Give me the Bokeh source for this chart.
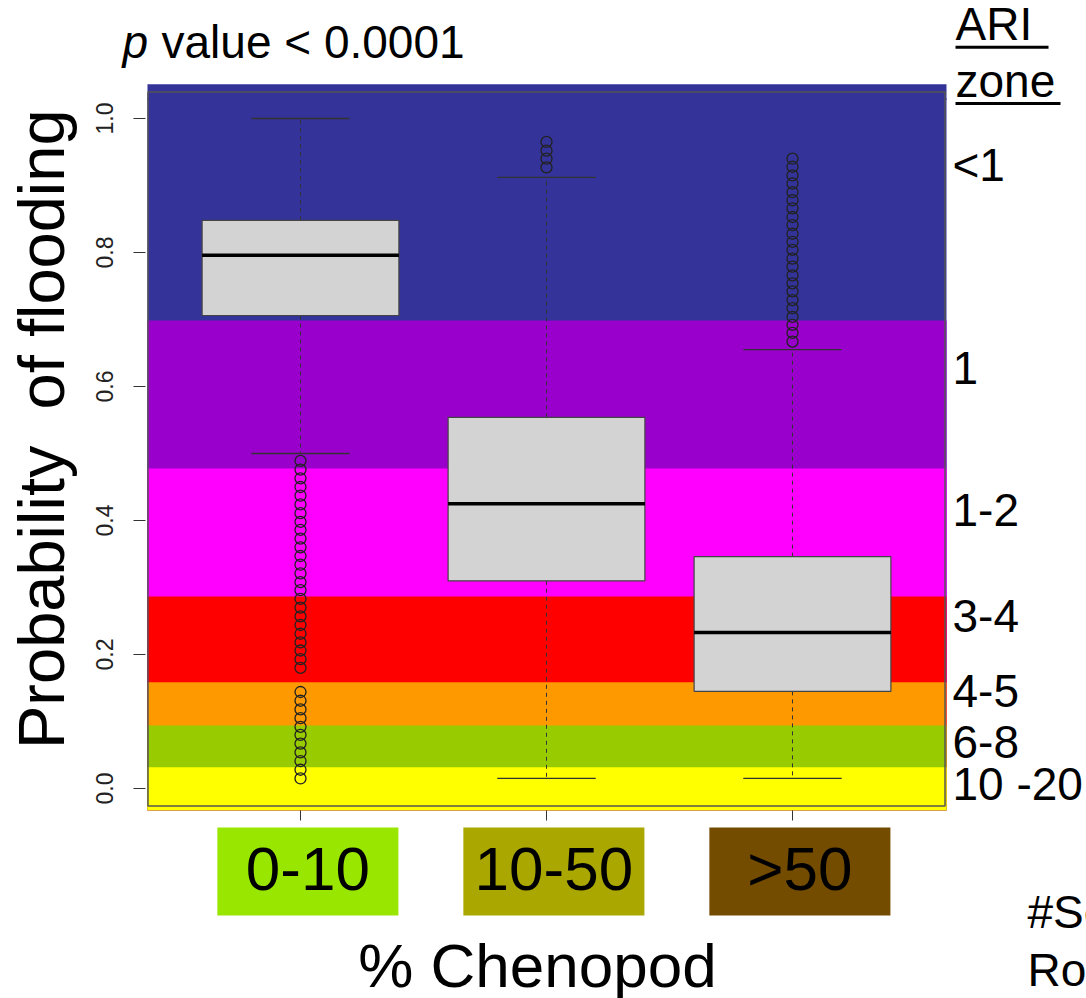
from bokeh.plotting import figure
from bokeh.layouts import column
from bokeh.models import FixedTicker, Range1d
from bokeh.core.properties import value
from bokeh.embed import file_html
from bokeh.resources import INLINE

# ---------------- data ----------------
categories = ["0-10", "10-50", ">50"]
cat_pos = [1, 2, 3]
whisker_low = [0.500, 0.015, 0.015]
q1 = [0.706, 0.310, 0.145]
median = [0.796, 0.425, 0.233]
q3 = [0.848, 0.554, 0.346]
whisker_high = [1.000, 0.912, 0.655]

outliers_0_10 = [0.489, 0.476, 0.463, 0.450, 0.437, 0.424, 0.411, 0.398, 0.386,
                 0.373, 0.360, 0.347, 0.334, 0.321, 0.308, 0.296, 0.283, 0.270,
                 0.257, 0.244, 0.231, 0.218, 0.206, 0.193, 0.180,
                 0.144, 0.131, 0.118, 0.105, 0.092, 0.080, 0.067, 0.054, 0.041,
                 0.028, 0.015]
outliers_10_50 = [0.965, 0.952, 0.940, 0.927]
outliers_gt50 = [0.940, 0.928, 0.915, 0.903, 0.890, 0.878, 0.866, 0.853, 0.841,
                 0.828, 0.816, 0.804, 0.791, 0.779, 0.766, 0.754, 0.742, 0.729,
                 0.717, 0.704, 0.692, 0.680, 0.667]

zone_labels = ["<1", "1", "1-2", "3-4", "4-5", "6-8", "10 -20"]
zone_label_y = [0.931, 0.628, 0.415, 0.257, 0.145, 0.070, 0.006]
band_top = [1.051, 0.6985, 0.4776, 0.2866, 0.1587, 0.0940, 0.0318]
band_bottom = [0.6985, 0.4776, 0.2866, 0.1587, 0.0940, 0.0318, -0.0330]
band_colors = ["#333399", "#9900CC", "#FF00FF", "#FF0000", "#FF9900", "#99CC00", "#FFFF00"]
cat_colors = ["#99E600", "#AAA700", "#744C00"]

y_ticks = [0.0, 0.2, 0.4, 0.6, 0.8, 1.0]
y_tick_labels = ["0.0", "0.2", "0.4", "0.6", "0.8", "1.0"]

title_p = "p"
title_rest = "value < 0.0001"
y_title = "Probability\u00a0 of flooding"
x_title = "% Chenopod"
zone_header = ["ARI ", "zone"]
note_lines = ["#Se", "Ro"]

FONT = value("Liberation Sans")

# page-pixel based ranges: x = 1 + (px - 300)/246 ; y = (788 - py)/670
X_FULL = (1 + (0 - 300) / 246, 1 + (1086 - 300) / 246)
X_MAIN = (1 + (145 - 300) / 246, 1 + (1086 - 300) / 246)
TOP_H = 100
OVERLAP = 2
Y_TOP = ((788 - TOP_H) / 670, 788 / 670)
Y_MAIN = ((788 - 810) / 670, (788 - (TOP_H - OVERLAP)) / 670)


def draw_background(fig):
    # bands painted top to bottom, each reaching the bottom, so no seams appear
    fig.quad(left=0.378, right=3.626, top=band_top,
             bottom=[min(band_bottom)] * len(band_top),
             fill_color=band_colors, line_color=None)
    # plot box
    fig.quad(left=[0.38], right=[3.62], bottom=[-0.026], top=[1.0395],
             fill_color=None, line_color="#555555", line_width=1.5)


# ---------------- top strip ----------------
t = figure(width=1086, height=TOP_H, x_range=Range1d(*X_FULL), y_range=Range1d(*Y_TOP),
           x_axis_type=None, y_axis_type=None, output_backend="svg",
           toolbar_location=None, min_border=0, frame_align=False)
t.outline_line_color = None
t.background_fill_color = None
t.border_fill_color = None
draw_background(t)
t.text(x=[0.2764], y=[1.1136], text=[title_p], text_font=FONT,
       text_font_size="46px", text_font_style="italic", text_color="black",
       text_baseline="middle", text_align="left")
t.text(x=[0.435], y=[1.1136], text=[title_rest], text_font=FONT,
       text_font_size="46px", text_color="black",
       text_baseline="middle", text_align="left")
t.text(x=[3.6626, 3.6626], y=[1.1405, 1.0554], text=zone_header, text_font=FONT,
       text_font_size="46px", text_color="black",
       text_baseline="middle", text_align="left")
t.segment(x0=[3.6626], x1=[4.0407], y0=[1.1064], y1=[1.1064],
          line_color="black", line_width=3)

# ---------------- main plot ----------------
p = figure(width=1086, height=826 - TOP_H + OVERLAP,
           x_range=Range1d(*X_MAIN), y_range=Range1d(*Y_MAIN),
           output_backend="svg", toolbar_location=None,
           min_border_left=145, min_border_right=0, min_border_top=0,
           min_border_bottom=16, frame_align=False)
p.margin = (-OVERLAP, 0, 0, 0)
p.xgrid.visible = False
p.ygrid.visible = False
p.outline_line_color = None
p.background_fill_color = None
p.border_fill_color = None

draw_background(p)
p.segment(x0=[3.6626], x1=[4.0894], y0=[1.0224], y1=[1.0224],
          line_color="black", line_width=3)

# whiskers
p.segment(x0=cat_pos, x1=cat_pos, y0=q3, y1=whisker_high,
          line_color="#333333", line_width=1, line_dash="4 4")
p.segment(x0=cat_pos, x1=cat_pos, y0=q1, y1=whisker_low,
          line_color="#333333", line_width=1, line_dash="4 4")
# caps
p.segment(x0=[c - 0.2 for c in cat_pos], x1=[c + 0.2 for c in cat_pos],
          y0=whisker_high, y1=whisker_high, line_color="#333333", line_width=1.3)
p.segment(x0=[c - 0.2 for c in cat_pos], x1=[c + 0.2 for c in cat_pos],
          y0=whisker_low, y1=whisker_low, line_color="#333333", line_width=1.3)
# boxes
p.quad(left=[c - 0.4 for c in cat_pos], right=[c + 0.4 for c in cat_pos],
       bottom=q1, top=q3, fill_color="#D3D3D3", line_color="#444444", line_width=1.2)
# medians
p.segment(x0=[c - 0.4 for c in cat_pos], x1=[c + 0.4 for c in cat_pos],
          y0=median, y1=median, line_color="black", line_width=3.5)

# outliers
for c, vals in zip(cat_pos, [outliers_0_10, outliers_10_50, outliers_gt50]):
    p.scatter(x=[c] * len(vals), y=vals, marker="circle", size=11,
              fill_color=None, line_color="#222222", line_width=1.3)

# axes
p.yaxis.ticker = FixedTicker(ticks=y_ticks)
p.yaxis.major_label_overrides = dict(zip(y_ticks, y_tick_labels))
p.yaxis.major_label_orientation = "parallel"
p.yaxis.major_label_text_font = "Liberation Sans"
p.yaxis.major_label_text_font_size = "23px"
p.yaxis.major_label_text_color = "#222222"
p.yaxis.major_label_standoff = 21
p.yaxis.major_tick_out = 12
p.yaxis.major_tick_in = 0
p.yaxis.major_tick_line_color = "#333333"
p.yaxis.minor_tick_line_color = None
p.yaxis.axis_line_color = None
p.yaxis.axis_label = "\u2002\u00a0" + y_title
p.yaxis.axis_label_text_font = "Liberation Sans"
p.yaxis.axis_label_text_font_size = "65px"
p.yaxis.axis_label_text_font_style = "normal"
p.yaxis.axis_label_text_color = "black"
p.yaxis.axis_label_standoff = 15

p.xaxis.ticker = FixedTicker(ticks=cat_pos)
p.xaxis.major_label_overrides = {c: "" for c in cat_pos}
p.xaxis.major_label_text_font_size = "1px"
p.xaxis.major_label_standoff = 0
p.xaxis.major_tick_out = 10
p.xaxis.major_tick_in = 0
p.xaxis.major_tick_line_color = "#333333"
p.xaxis.minor_tick_line_color = None
p.xaxis.axis_line_color = None

# zone labels
p.text(x=[3.6504] * len(zone_labels), y=zone_label_y, text=zone_labels,
       text_font=FONT, text_font_size="46px", text_color="black",
       text_baseline="middle", text_align="left")

# ---------------- bottom strip ----------------
b = figure(width=1086, height=172,
           x_range=Range1d(*X_MAIN),
           y_range=Range1d(0, 172),
           x_axis_type=None, y_axis_type=None,
           output_backend="svg", toolbar_location=None,
           min_border=0, min_border_left=145, frame_align=False)
b.outline_line_color = None
b.xgrid.visible = False
b.ygrid.visible = False

b.quad(left=[c + 0.03 - 0.368 for c in cat_pos], right=[c + 0.03 + 0.368 for c in cat_pos],
       bottom=83, top=171, fill_color=cat_colors, line_color=None)
b.text(x=[c + 0.03 for c in cat_pos], y=[129.7] * 3, text=categories, text_font=FONT,
       text_font_size="62px", text_color="black",
       text_baseline="middle", text_align="center")
b.text(x=[1.963], y=[33], text=[x_title], text_font=FONT, text_font_size="62px",
       text_color="black", text_baseline="middle", text_align="center")
b.text(x=[3.955, 3.955], y=[87, 29], text=note_lines, text_font=FONT,
       text_font_size="46px", text_color="black",
       text_baseline="middle", text_align="left")

layout = column(t, p, b, spacing=0)
open("out.html", "w").write(file_html(layout, INLINE))
